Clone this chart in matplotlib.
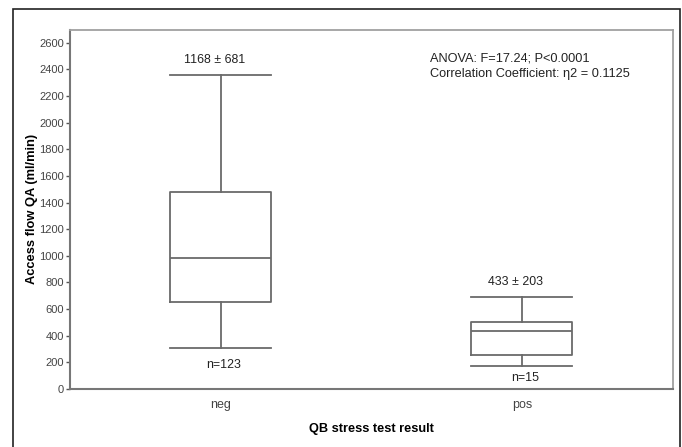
import matplotlib.pyplot as plt
from matplotlib.patches import Rectangle

plt.rcParams['font.family'] = ['Liberation Sans', 'DejaVu Sans']

# box plot summary
groups = ["neg", "pos"]
whislo = [306, 173]
q1 = [656, 253]
med = [982, 436]
q3 = [1478, 506]
whishi = [2355, 694]
mean_sd = ["1168 \u00b1 681", "433 \u00b1 203"]
counts = ["n=123", "n=15"]
yticks = list(range(0, 2601, 200))

stats = []
for i in range(len(groups)):
    stats.append({"whislo": whislo[i], "q1": q1[i], "med": med[i],
                  "q3": q3[i], "whishi": whishi[i], "fliers": []})

fig = plt.figure(figsize=(6.82, 4.47), dpi=100)
# outer frame around the whole figure
frame = Rectangle((13 / 682, -0.05), (680 - 13) / 682, 1.05 - 9 / 447,
                  transform=fig.transFigure, fill=False, edgecolor='#222222',
                  linewidth=1.2, clip_on=False)
fig.patches.append(frame)

ax = fig.add_axes([70 / 682, 58 / 447, (672.5 - 70) / 682, (389 - 29.5) / 447])

lc = '#6a6a6a'
pos = [1, 2]
ax.bxp(stats, positions=pos, widths=0.335, capwidths=0.335, showfliers=False,
       boxprops=dict(color=lc, linewidth=1.3),
       whiskerprops=dict(color=lc, linewidth=1.3),
       capprops=dict(color=lc, linewidth=1.3),
       medianprops=dict(color=lc, linewidth=1.3))

ax.set_xlim(0.5, 2.5)
ax.set_ylim(0, 2700)
ax.set_yticks(yticks)
ax.set_xticks(pos)
ax.set_xticklabels(groups)
ax.tick_params(axis='y', direction='out', length=3, width=1, color='#555555',
               labelsize=8, labelcolor='#444444', pad=1.5)
ax.tick_params(axis='x', length=0, labelsize=9, labelcolor='#444444', pad=7)

for s in ['left', 'bottom']:
    ax.spines[s].set_color('#777777')
    ax.spines[s].set_linewidth(1.5)
for s in ['top', 'right']:
    ax.spines[s].set_color('#a0a0a0')
    ax.spines[s].set_linewidth(1.3)

ax.set_ylabel("Access flow QA (ml/min)", fontsize=9.3, fontweight='bold', labelpad=0.5)
ax.set_xlabel("QB stress test result", fontsize=9.2, fontweight='bold', labelpad=9)

# labels above and below the boxes
top_y = [2472, 804]
bot_y = [180, 85]
for i in range(len(groups)):
    ax.text(pos[i] - 0.02, top_y[i], mean_sd[i], ha='center', va='center',
            fontsize=8.9, color='#222222')
    ax.text(pos[i] + 0.01, bot_y[i], counts[i], ha='center', va='center',
            fontsize=8.9, color='#222222')

ax.text(0.597, 0.937, "ANOVA: F=17.24; P<0.0001\nCorrelation Coefficient: \u03b72 = 0.1125",
        transform=ax.transAxes, ha='left', va='top', fontsize=9.2,
        color='#222222', linespacing=1.4)

fig.savefig("out.png", dpi=100)
